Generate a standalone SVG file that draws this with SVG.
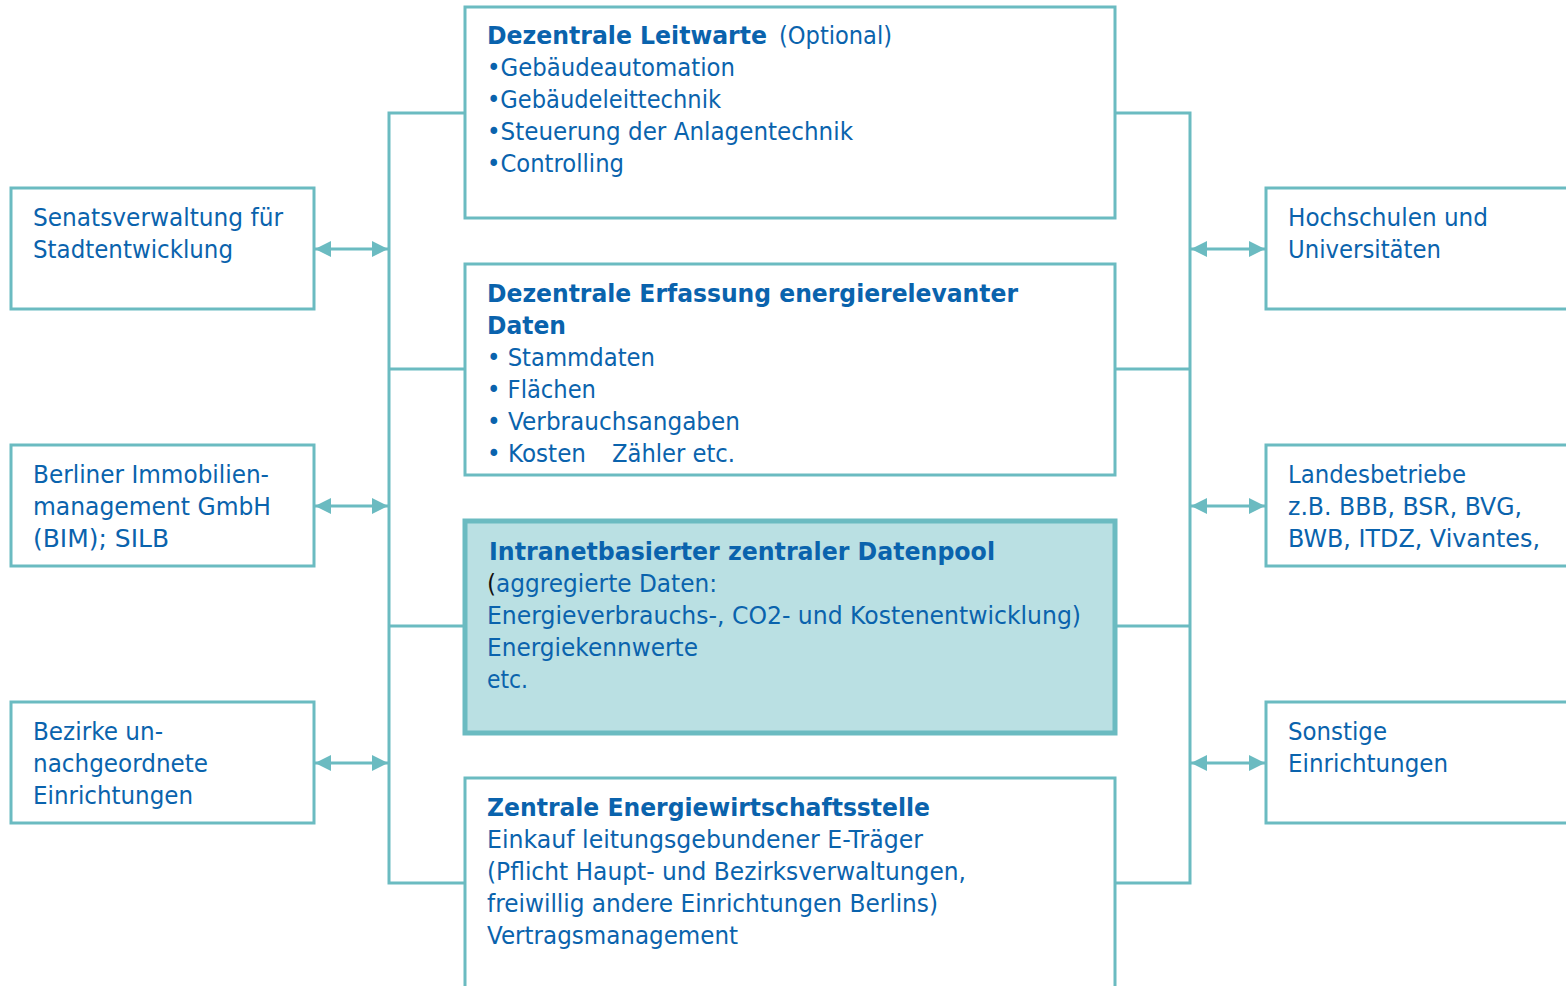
<svg xmlns="http://www.w3.org/2000/svg" width="1566" height="986" viewBox="0 0 1566 986">
<defs>
<marker id="ah" viewBox="0 0 16 16" refX="16" refY="8" markerWidth="16" markerHeight="16" markerUnits="userSpaceOnUse" orient="auto-start-reverse">
<path d="M0,0 L16,8 L0,16 Z" fill="#6BBBC1"/>
</marker>
</defs>
<style>
.box{fill:#fff;stroke:#6BBBC1;stroke-width:3}
.pool{fill:#BAE0E3;stroke:#6BBBC1;stroke-width:5}
.ln{fill:none;stroke:#6BBBC1;stroke-width:3}
.ar{fill:none;stroke:#6BBBC1;stroke-width:3;marker-start:url(#ah);marker-end:url(#ah)}
text{font-family:"DejaVu Sans","Liberation Sans",sans-serif;font-size:24px;fill:#0A63AD}
.b{font-weight:bold}
</style>
<g id="connectors">
<polyline class="ln" points="465,113 389,113 389,883 465,883"/>
<line class="ln" x1="389" y1="369" x2="465" y2="369"/>
<line class="ln" x1="389" y1="626" x2="465" y2="626"/>
<polyline class="ln" points="1115,113 1190,113 1190,883 1115,883"/>
<line class="ln" x1="1115" y1="369" x2="1190" y2="369"/>
<line class="ln" x1="1115" y1="626" x2="1190" y2="626"/>
<line class="ar" x1="315" y1="249" x2="388" y2="249"/>
<line class="ar" x1="315" y1="506" x2="388" y2="506"/>
<line class="ar" x1="315" y1="763" x2="388" y2="763"/>
<line class="ar" x1="1191" y1="249" x2="1265" y2="249"/>
<line class="ar" x1="1191" y1="506" x2="1265" y2="506"/>
<line class="ar" x1="1191" y1="763" x2="1265" y2="763"/>
</g>
<g id="leitwarte">
<rect class="box" x="465" y="7" width="650" height="211"/>
<text class="b" x="487" y="44" textLength="280" lengthAdjust="spacingAndGlyphs">Dezentrale Leitwarte</text>
<text x="779" y="44" textLength="113" lengthAdjust="spacingAndGlyphs">(Optional)</text>
<text x="487" y="76" textLength="248" lengthAdjust="spacingAndGlyphs">•Gebäudeautomation</text>
<text x="487" y="108" textLength="234" lengthAdjust="spacingAndGlyphs">•Gebäudeleittechnik</text>
<text x="487" y="140" textLength="366" lengthAdjust="spacingAndGlyphs">•Steuerung der Anlagentechnik</text>
<text x="487" y="172" textLength="137" lengthAdjust="spacingAndGlyphs">•Controlling</text>
</g>
<g id="erfassung">
<rect class="box" x="465" y="264" width="650" height="211"/>
<text class="b" x="487" y="302" textLength="531" lengthAdjust="spacingAndGlyphs">Dezentrale Erfassung energierelevanter</text>
<text class="b" x="487" y="334" textLength="79" lengthAdjust="spacingAndGlyphs">Daten</text>
<text x="487" y="366" textLength="168" lengthAdjust="spacingAndGlyphs">• Stammdaten</text>
<text x="487" y="398" textLength="109" lengthAdjust="spacingAndGlyphs">• Flächen</text>
<text x="487" y="430" textLength="253" lengthAdjust="spacingAndGlyphs">• Verbrauchsangaben</text>
<text x="487" y="462" textLength="99" lengthAdjust="spacingAndGlyphs">• Kosten</text>
<text x="612" y="462" textLength="123" lengthAdjust="spacingAndGlyphs">Zähler etc.</text>
</g>
<g id="datenpool">
<rect class="pool" x="465" y="521" width="650" height="212"/>
<text class="b" x="489" y="560" textLength="506" lengthAdjust="spacingAndGlyphs">Intranetbasierter zentraler Datenpool</text>
<text x="487" y="592" textLength="230" lengthAdjust="spacingAndGlyphs"><tspan fill="#111">(</tspan>aggregierte Daten:</text>
<text x="487" y="624" textLength="594" lengthAdjust="spacingAndGlyphs">Energieverbrauchs-, CO2- und Kostenentwicklung)</text>
<text x="487" y="656" textLength="211" lengthAdjust="spacingAndGlyphs">Energiekennwerte</text>
<text x="487" y="688" textLength="41" lengthAdjust="spacingAndGlyphs">etc.</text>
</g>
<g id="energiewirtschaft">
<rect class="box" x="465" y="778" width="650" height="220"/>
<text class="b" x="487" y="816" textLength="443" lengthAdjust="spacingAndGlyphs">Zentrale Energiewirtschaftsstelle</text>
<text x="487" y="848" textLength="436" lengthAdjust="spacingAndGlyphs">Einkauf leitungsgebundener E-Träger</text>
<text x="487" y="880" textLength="479" lengthAdjust="spacingAndGlyphs">(Pflicht Haupt- und Bezirksverwaltungen,</text>
<text x="487" y="912" textLength="451" lengthAdjust="spacingAndGlyphs">freiwillig andere Einrichtungen Berlins)</text>
<text x="487" y="944" textLength="251" lengthAdjust="spacingAndGlyphs">Vertragsmanagement</text>
</g>
<g id="senat">
<rect class="box" x="11" y="188" width="303" height="121"/>
<text x="33" y="226" textLength="250" lengthAdjust="spacingAndGlyphs">Senatsverwaltung für</text>
<text x="33" y="258" textLength="200" lengthAdjust="spacingAndGlyphs">Stadtentwicklung</text>
</g>
<g id="bim">
<rect class="box" x="11" y="445" width="303" height="121"/>
<text x="33" y="483" textLength="236" lengthAdjust="spacingAndGlyphs">Berliner Immobilien-</text>
<text x="33" y="515" textLength="238" lengthAdjust="spacingAndGlyphs">management GmbH</text>
<text x="33" y="547" textLength="136" lengthAdjust="spacingAndGlyphs">(BIM); SILB</text>
</g>
<g id="bezirke">
<rect class="box" x="11" y="702" width="303" height="121"/>
<text x="33" y="740" textLength="130" lengthAdjust="spacingAndGlyphs">Bezirke un-</text>
<text x="33" y="772" textLength="175" lengthAdjust="spacingAndGlyphs">nachgeordnete</text>
<text x="33" y="804" textLength="160" lengthAdjust="spacingAndGlyphs">Einrichtungen</text>
</g>
<g id="hochschulen">
<rect class="box" x="1266" y="188" width="310" height="121"/>
<text x="1288" y="226" textLength="200" lengthAdjust="spacingAndGlyphs">Hochschulen und</text>
<text x="1288" y="258" textLength="153" lengthAdjust="spacingAndGlyphs">Universitäten</text>
</g>
<g id="landesbetriebe">
<rect class="box" x="1266" y="445" width="310" height="121"/>
<text x="1288" y="483" textLength="178" lengthAdjust="spacingAndGlyphs">Landesbetriebe</text>
<text x="1288" y="515" textLength="234" lengthAdjust="spacingAndGlyphs">z.B. BBB, BSR, BVG,</text>
<text x="1288" y="547" textLength="252" lengthAdjust="spacingAndGlyphs">BWB, ITDZ, Vivantes,</text>
</g>
<g id="sonstige">
<rect class="box" x="1266" y="702" width="310" height="121"/>
<text x="1288" y="740" textLength="99" lengthAdjust="spacingAndGlyphs">Sonstige</text>
<text x="1288" y="772" textLength="160" lengthAdjust="spacingAndGlyphs">Einrichtungen</text>
</g>
</svg>
